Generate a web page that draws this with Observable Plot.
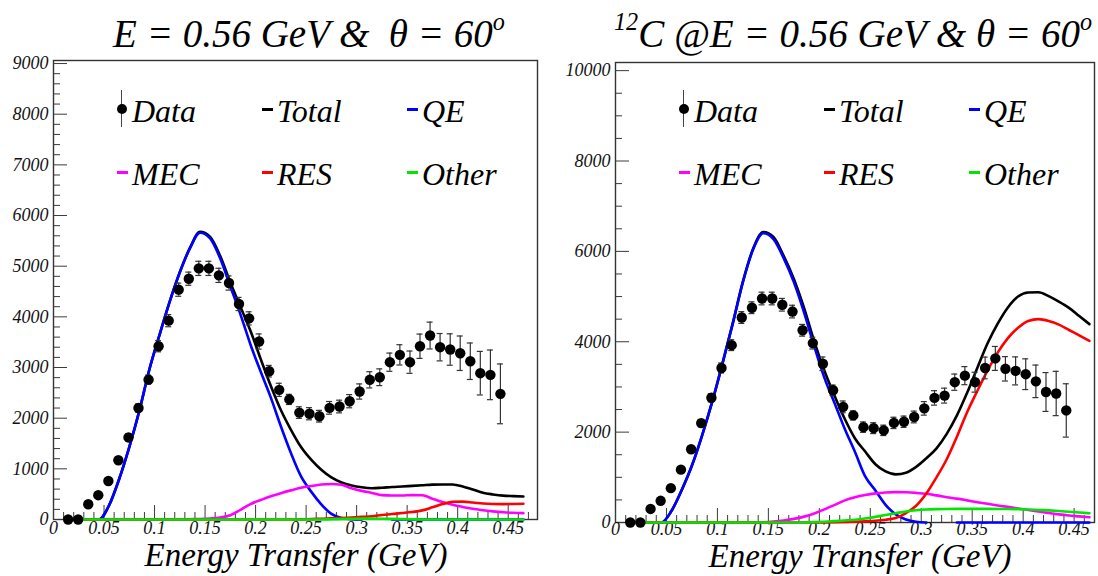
<!DOCTYPE html>
<html><head><meta charset="utf-8">
<script src="https://cdn.jsdelivr.net/npm/d3@7"></script>
<script src="https://cdn.jsdelivr.net/npm/@observablehq/plot@0.6"></script>
<style>
body{margin:0;background:#fff;}
#wrap{position:relative;width:1098px;height:576px;overflow:hidden;font-family:"Liberation Serif","Times New Roman",serif;font-style:italic;color:#000;}
.panel{position:absolute;top:0;}
.title{position:absolute;font-size:39px;line-height:38px;white-space:nowrap;transform:translateX(-50%);}
.sup{font-size:62%;position:relative;top:-0.7em;}
.xlab{position:absolute;font-size:33px;line-height:14px;white-space:nowrap;transform:translateX(-50%);}
.lt{position:absolute;font-size:32px;line-height:32px;white-space:nowrap;}
.abs{position:absolute;}
</style></head>
<body><div id="wrap"></div>
<script>
// ---- data points (shared by both panels) ----
const dataX = [0.0145,0.0244,0.0344,0.0443,0.0543,0.0642,0.0742,0.0841,0.0941,0.1040,0.1140,0.1239,0.1339,0.1438,0.1538,0.1637,0.1737,0.1836,0.1936,0.2035,0.2135,0.2234,0.2334,0.2433,0.2533,0.2632,0.2732,0.2831,0.2931,0.3030,0.3130,0.3229,0.3329,0.3428,0.3528,0.3627,0.3727,0.3826,0.3926,0.4025,0.4125,0.4224,0.4324,0.4423];
const dataY = [0,0,300,480,760,1170,1620,2200,2760,3420,3925,4536,4753,4957,4957,4819,4668,4254,3970,3513,2927,2559,2370,2110,2088,2039,2204,2230,2335,2526,2757,2808,3105,3250,3105,3420,3631,3401,3355,3282,3124,2888,2855,2480];
const dataErr = [0,0,30,40,50,60,70,80,90,110,120,130,130,140,140,140,140,130,130,150,115,130,100,115,120,115,125,125,130,150,160,165,180,200,220,240,265,270,310,340,360,430,490,590];

// ---- model curves ----
const curveX = [0.015,0.025,0.035,0.045,0.055,0.065,0.075,0.085,0.095,0.105,0.115,0.125,0.135,0.145,0.155,0.165,0.175,0.185,0.195,0.205,0.215,0.225,0.235,0.245,0.255,0.265,0.275,0.285,0.295,0.305,0.315,0.325,0.335,0.345,0.355,0.365,0.375,0.385,0.395,0.405,0.415,0.425,0.435,0.445,0.455,0.465];

// left panel
const totalL = [0,0,0,0,280,800,1430,2150,2970,3650,4300,4880,5360,5680,5580,5200,4680,4200,3720,3170,2640,2160,1770,1430,1180,980,830,730,670,635,618,628,642,652,664,676,688,692,690,652,592,527,495,472,462,454];
const qeL = [0,0,0,0,280,800,1430,2150,2970,3650,4300,4880,5350,5660,5550,5150,4600,4050,3450,2920,2410,1840,1310,850,550,300,110,30,5,0,null,null,0,0,0,0,0,0,0,0,0,0,0,0,0,0];
const mecL = [0,0,0,0,0,0,0,0,0,0,0,0,5,10,20,40,85,190,305,385,460,520,575,625,660,690,702,685,615,565,525,482,474,474,482,480,410,345,290,248,212,182,160,143,132,125];
const resL = [0,0,0,0,0,0,0,0,0,0,0,0,0,0,0,0,0,0,0,0,0,0,0,3,8,15,22,30,40,52,65,88,108,127,148,180,240,305,350,352,335,315,305,303,306,310];
const otherL = [0,0,0,0,0,0,0,0,0,0,0,0,0,0,0,0,0,0,0,0,0,0,0,0,0,0,5,10,15,18,18,15,12,8,5,0,0,0,0,0,0,0,0,0,0,0];

// right panel
const totalR = [0,0,0,0,260,720,1260,1930,2680,3520,4400,5330,6060,6430,6320,5900,5390,4750,4010,3360,2800,2290,1860,1570,1290,1130,1065,1100,1230,1420,1640,1960,2370,2870,3420,3960,4400,4760,5000,5090,5095,5010,4890,4750,4570,4390];
const qeR = [0,0,0,0,260,720,1260,1930,2680,3520,4400,5320,6040,6400,6270,5850,5320,4650,3900,3200,2640,2070,1560,1020,710,390,180,65,15,0,null,null,0,0,0,0,0,0,0,0,0,0,0,0,0,0];
const mecR = [0,0,0,0,0,0,0,0,0,0,0,0,0,5,20,45,80,130,200,290,390,490,560,610,645,665,672,668,655,635,600,560,528,490,450,413,378,345,310,278,244,210,180,155,135,115];
const resR = [0,0,0,0,0,0,0,0,0,0,0,0,0,0,0,0,0,0,0,2,5,10,16,25,38,62,100,210,370,640,1000,1400,1900,2440,2910,3360,3760,4080,4310,4460,4500,4460,4380,4260,4140,4020];
const otherR = [0,0,0,0,0,0,0,0,0,0,0,0,0,0,0,0,0,0,8,18,30,45,62,90,125,165,205,245,272,288,296,300,302,302,302,302,300,298,295,288,278,268,255,238,222,206];

// ---- axes ticks ----
const xMajor = [0,0.05,0.1,0.15,0.2,0.25,0.3,0.35,0.4,0.45];
const xMinor = [0.01,0.02,0.03,0.04,0.06,0.07,0.08,0.09,0.11,0.12,0.13,0.14,0.16,0.17,0.18,0.19,0.21,0.22,0.23,0.24,0.26,0.27,0.28,0.29,0.31,0.32,0.33,0.34,0.36,0.37,0.38,0.39,0.41,0.42,0.43,0.44,0.46,0.47];
const yMajorL = [0,1000,2000,3000,4000,5000,6000,7000,8000,9000];
const yMinorL = [200,400,600,800,1200,1400,1600,1800,2200,2400,2600,2800,3200,3400,3600,3800,4200,4400,4600,4800,5200,5400,5600,5800,6200,6400,6600,6800,7200,7400,7600,7800,8200,8400,8600,8800];
const yMajorR = [0,2000,4000,6000,8000,10000];
const yMinorR = [500,1000,1500,2500,3000,3500,4500,5000,5500,6500,7000,7500,8500,9000,9500];

// ---- legend ----
const legendLabels = ["Data","Total","QE","MEC","RES","Other"];
const seriesColors = {Total:"#000000", QE:"#0000ff", MEC:"#ff00ff", RES:"#ff0000", Other:"#00e600"};

const FONT = '"Liberation Serif", "Times New Roman", serif';
const wrap = document.getElementById("wrap");

function makePanel(cfg){
  const pts = dataX.map((x,i)=>({x, y:dataY[i], e:dataErr[i]}));
  const errPts = pts.filter(d=>d.e>0);
  const series = [["Total",cfg.total],["QE",cfg.qe],["MEC",cfg.mec],["RES",cfg.res],["Other",cfg.other]];
  const lineMarks = series.map(([name,vals]) =>
    Plot.line(curveX.map((x,i)=>({x, y: vals[i]})), {x:"x", y:"y", stroke: seriesColors[name], strokeWidth: 2.6, curve:"monotone-x"}));
  const tickC = "#3a3a3a";
  const txt = {fontFamily: FONT, fontStyle: "italic", fontSize: 18, fill: "#111"};
  const p = Plot.plot({
    width: 549, height: 576,
    marginLeft: cfg.ml, marginRight: cfg.mr, marginTop: cfg.mt, marginBottom: cfg.mb,
    x: {domain:[0, cfg.xmax]},
    y: {domain:[0, cfg.ymax]},
    style: {fontFamily: FONT, fontStyle:"italic", fontSize:"18px", color:"#111", background:"transparent", overflow:"visible"},
    marks: [
      Plot.frame({stroke:"#333", strokeWidth:1.4}),
      Plot.ruleX(xMinor.filter(d=>d<cfg.xmax), {x:d=>d, y1:0, y2:0, insetTop:-7, stroke:tickC, strokeWidth:1}),
      Plot.ruleX(xMajor, {x:d=>d, y1:0, y2:0, insetTop:-14, stroke:tickC, strokeWidth:1}),
      Plot.ruleY(cfg.yMinor, {y:d=>d, x1:0, x2:0, insetRight:-7, stroke:tickC, strokeWidth:1}),
      Plot.ruleY(cfg.yMajor, {y:d=>d, x1:0, x2:0, insetRight:-14, stroke:tickC, strokeWidth:1}),
      Plot.axisX({ticks:xMajor, tickSize:0, tickPadding:cfg.xPad, label:null, ...txt, tickFormat:d=> d===0 ? "0" : String(+d.toFixed(2))}),
      Plot.axisY({ticks:cfg.yMajor, tickSize:0, tickPadding:5, label:null, ...txt, tickFormat:d=>String(d)}),
      ...lineMarks,
      Plot.ruleX(errPts, {x:"x", y1:d=>d.y-d.e, y2:d=>d.y+d.e, stroke:"#333", strokeWidth:1.2}),
      Plot.ruleY(errPts, {y:d=>d.y+d.e, x1:"x", x2:"x", insetLeft:-3, insetRight:-3, stroke:"#333", strokeWidth:1.2}),
      Plot.ruleY(errPts, {y:d=>d.y-d.e, x1:"x", x2:"x", insetLeft:-3, insetRight:-3, stroke:"#333", strokeWidth:1.2}),
      Plot.dot(pts, {x:"x", y:"y", r:5.2, fill:"#000", stroke:"none"})
    ]
  });
  p.classList.add("panel");
  p.style.left = cfg.left + "px";
  wrap.appendChild(p);

  // legend (HTML overlay inside the frame)
  const fl = cfg.left + cfg.ml;
  const colOff = [79, 224, 369];
  const rowBase = [121.7, 185];
  legendLabels.forEach((lab, i) => {
    const tx = fl + colOff[i % 3];
    const base = rowBase[Math.floor(i / 3)] + cfg.legendDy;
    const t = document.createElement("div");
    t.className = "lt"; t.textContent = lab;
    t.style.left = tx + "px"; t.style.top = (base - 26.8) + "px";
    wrap.appendChild(t);
    if (lab === "Data") {
      const bar = document.createElement("div");
      bar.className = "abs";
      Object.assign(bar.style, {left:(tx-10.8)+"px", top:(base-31.7)+"px", width:"1.2px", height:"36.7px", background:"#444"});
      wrap.appendChild(bar);
      const dot = document.createElement("div");
      dot.className = "abs";
      Object.assign(dot.style, {left:(tx-15.5)+"px", top:(base-17.4)+"px", width:"10px", height:"10px", borderRadius:"50%", background:"#000"});
      wrap.appendChild(dot);
    } else {
      const dash = document.createElement("div");
      dash.className = "abs";
      Object.assign(dash.style, {left:(tx-15)+"px", top:(base-13.6)+"px", width:"11px", height:"2.5px", background:seriesColors[lab]});
      wrap.appendChild(dash);
    }
  });

  // title and x label
  const ti = document.createElement("div");
  ti.className = "title"; ti.innerHTML = cfg.title;
  ti.style.left = cfg.titleX + "px"; ti.style.top = "15px";
  wrap.appendChild(ti);
  const xl = document.createElement("div");
  xl.className = "xlab"; xl.textContent = "Energy Transfer (GeV)";
  xl.style.left = cfg.xlabX + "px"; xl.style.top = cfg.xlabTop + "px";
  wrap.appendChild(xl);
}

makePanel({left:0, ml:53, mr:12, mt:60, mb:57, xmax:0.479, ymax:9060,
  yMajor:yMajorL, yMinor:yMinorL, xPad:2,
  total:totalL, qe:qeL, mec:mecL, res:resL, other:otherL,
  legendDy:0, titleX:309, xlabX:296, xlabTop:548,
  title:'E = 0.56 GeV &amp;&nbsp; θ = 60<span class="sup">o</span>'});
makePanel({left:549, ml:66, mr:4, mt:62, mb:54, xmax:0.470, ymax:10180,
  yMajor:yMajorR, yMinor:yMinorR, xPad:0,
  total:totalR, qe:qeR, mec:mecR, res:resR, other:otherR,
  legendDy:0, titleX:853, xlabX:860, xlabTop:549,
  title:'<span class="sup">12</span>C @E = 0.56 GeV &amp; θ = 60<span class="sup">o</span>'});
</script>
</body></html>
